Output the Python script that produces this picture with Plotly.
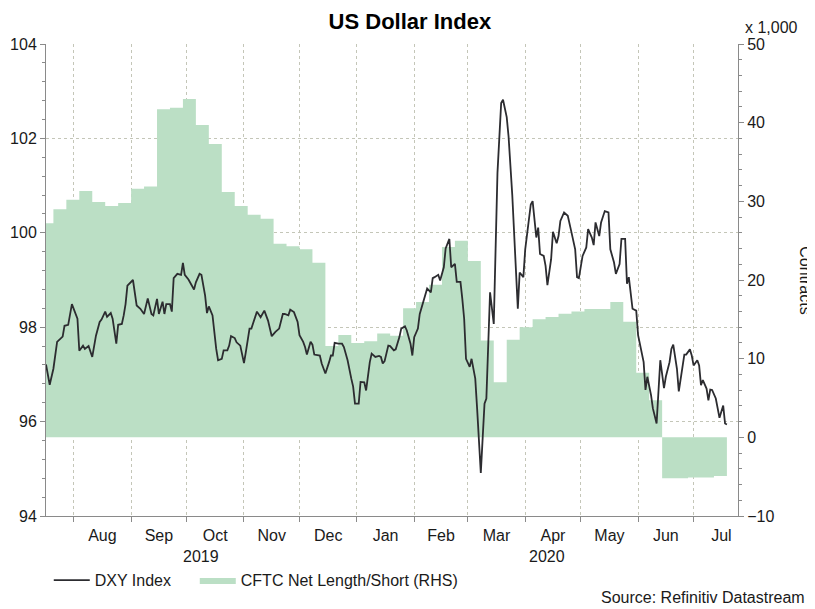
import pandas as pd
import plotly.graph_objects as go

# DXY daily closes
dxy_dates = [
    "2019-07-17", "2019-07-19", "2019-07-21", "2019-07-23", "2019-07-26", "2019-07-27", "2019-07-29", "2019-07-31",
    "2019-08-03", "2019-08-04", "2019-08-06", "2019-08-07", "2019-08-09", "2019-08-11", "2019-08-13", "2019-08-15",
    "2019-08-16", "2019-08-18", "2019-08-19", "2019-08-21", "2019-08-22", "2019-08-24", "2019-08-25", "2019-08-27",
    "2019-08-28", "2019-08-29", "2019-08-30", "2019-08-31",
    "2019-09-02", "2019-09-04", "2019-09-06", "2019-09-08", "2019-09-10", "2019-09-12", "2019-09-13", "2019-09-15",
    "2019-09-16", "2019-09-18", "2019-09-19", "2019-09-20", "2019-09-22", "2019-09-23", "2019-09-24", "2019-09-26",
    "2019-09-28", "2019-09-29", "2019-09-30",
    "2019-10-02", "2019-10-04", "2019-10-05", "2019-10-06", "2019-10-08", "2019-10-09", "2019-10-11", "2019-10-12",
    "2019-10-13", "2019-10-15", "2019-10-16", "2019-10-17", "2019-10-18", "2019-10-20", "2019-10-21", "2019-10-23",
    "2019-10-24", "2019-10-25", "2019-10-27", "2019-10-28", "2019-10-30", "2019-10-31",
    "2019-11-01", "2019-11-02", "2019-11-04", "2019-11-05", "2019-11-07", "2019-11-08", "2019-11-10", "2019-11-12",
    "2019-11-14", "2019-11-16", "2019-11-18", "2019-11-20", "2019-11-22", "2019-11-23", "2019-11-25", "2019-11-26",
    "2019-11-28", "2019-11-30",
    "2019-12-01", "2019-12-03", "2019-12-04", "2019-12-05", "2019-12-07", "2019-12-08", "2019-12-09", "2019-12-12",
    "2019-12-13", "2019-12-15", "2019-12-17", "2019-12-18", "2019-12-19", "2019-12-20", "2019-12-22", "2019-12-24",
    "2019-12-25", "2019-12-27", "2019-12-29", "2019-12-30", "2019-12-31",
    "2020-01-02", "2020-01-03", "2020-01-05", "2020-01-06", "2020-01-07", "2020-01-08", "2020-01-09", "2020-01-11",
    "2020-01-13", "2020-01-14", "2020-01-15", "2020-01-16", "2020-01-18", "2020-01-19", "2020-01-21", "2020-01-22",
    "2020-01-24", "2020-01-25", "2020-01-27", "2020-01-28", "2020-01-30", "2020-01-31",
    "2020-02-01", "2020-02-03", "2020-02-04", "2020-02-06", "2020-02-08", "2020-02-10", "2020-02-11", "2020-02-12",
    "2020-02-14", "2020-02-15", "2020-02-17", "2020-02-18", "2020-02-20", "2020-02-21", "2020-02-23", "2020-02-24",
    "2020-02-26", "2020-02-27", "2020-02-28", "2020-02-29",
    "2020-03-02", "2020-03-03", "2020-03-05", "2020-03-06", "2020-03-07", "2020-03-08", "2020-03-09", "2020-03-10",
    "2020-03-11", "2020-03-12", "2020-03-13", "2020-03-15", "2020-03-16", "2020-03-17", "2020-03-19", "2020-03-20",
    "2020-03-22", "2020-03-23", "2020-03-25", "2020-03-27", "2020-03-28", "2020-03-29", "2020-03-31",
    "2020-04-01", "2020-04-03", "2020-04-04", "2020-04-05", "2020-04-07", "2020-04-08", "2020-04-09", "2020-04-11",
    "2020-04-12", "2020-04-13", "2020-04-15", "2020-04-16", "2020-04-18", "2020-04-19", "2020-04-20", "2020-04-22",
    "2020-04-24", "2020-04-26", "2020-04-28", "2020-04-29", "2020-04-30",
    "2020-05-02", "2020-05-04", "2020-05-05", "2020-05-07", "2020-05-08", "2020-05-09", "2020-05-11", "2020-05-12",
    "2020-05-14", "2020-05-16", "2020-05-17", "2020-05-19", "2020-05-20", "2020-05-22", "2020-05-23", "2020-05-25",
    "2020-05-26", "2020-05-27", "2020-05-29", "2020-05-31",
    "2020-06-01", "2020-06-02", "2020-06-04", "2020-06-05", "2020-06-06", "2020-06-08", "2020-06-09", "2020-06-11",
    "2020-06-12", "2020-06-13", "2020-06-15", "2020-06-16", "2020-06-18", "2020-06-19", "2020-06-20", "2020-06-22",
    "2020-06-23", "2020-06-25", "2020-06-26", "2020-06-27", "2020-06-29", "2020-06-30",
    "2020-07-01", "2020-07-03", "2020-07-04", "2020-07-05", "2020-07-06", "2020-07-08", "2020-07-09", "2020-07-10",
    "2020-07-11", "2020-07-13", "2020-07-14", "2020-07-15", "2020-07-17", "2020-07-18", "2020-07-19",
]
dxy_values = [
    97.21, 96.78, 97.12, 97.69, 97.80, 98.03, 98.05, 98.49,
    98.18, 97.50, 97.61, 97.54, 97.60, 97.37, 97.82, 98.11,
    98.16, 98.33, 98.22, 98.30, 98.18, 97.65, 98.05, 98.07,
    98.25, 98.49, 98.88, 98.92,
    99.00, 98.46, 98.39, 98.28, 98.61, 98.28, 98.25, 98.60,
    98.28, 98.54, 98.28, 98.49, 98.49, 98.33, 99.04, 99.13,
    99.11, 99.36, 99.11,
    99.01, 98.85, 98.80, 98.95, 99.13, 99.11, 98.67, 98.30,
    98.44, 98.25, 97.86, 97.54, 97.30, 97.33, 97.51, 97.51,
    97.61, 97.81, 97.77, 97.68, 97.61, 97.40,
    97.24, 97.47, 97.97, 97.97, 98.18, 98.33, 98.21, 98.35,
    98.14, 97.81, 97.90, 97.97, 98.28, 98.28, 98.25, 98.37,
    98.32, 98.11,
    97.83, 97.69, 97.58, 97.42, 97.69, 97.63, 97.42, 97.40,
    97.23, 97.02, 97.26, 97.40, 97.40, 97.67, 97.65, 97.65,
    97.58, 97.30, 96.91, 96.74, 96.38,
    96.38, 96.84, 96.83, 96.66, 96.98, 97.26, 97.44, 97.37,
    97.39, 97.37, 97.23, 97.28, 97.61, 97.60, 97.51, 97.53,
    97.79, 97.97, 98.02, 97.93, 97.65, 97.40,
    97.79, 97.97, 98.28, 98.53, 98.82, 98.74, 99.04, 99.06,
    99.11, 98.99, 99.27, 99.67, 99.87, 99.27, 99.34, 98.96,
    98.96, 98.60, 98.18, 97.33,
    97.16, 97.33, 96.91, 96.28, 95.58, 94.91, 95.65, 96.38,
    96.49, 97.69, 98.74, 98.07, 99.58, 101.27, 102.75, 102.82,
    102.45, 102.04, 100.80, 99.16, 98.39, 99.16, 99.06,
    99.65, 100.29, 100.60, 100.67, 99.90, 100.11, 99.55, 99.51,
    99.30, 98.89, 99.44, 100.02, 99.78, 99.93, 100.25, 100.43,
    100.36, 100.01, 99.65, 99.06, 99.04,
    99.51, 99.69, 100.08, 99.90, 99.74, 100.22, 99.93, 100.22,
    100.46, 100.43, 99.65, 99.37, 99.13, 99.34, 99.87, 99.87,
    98.92, 99.06, 98.39, 98.35,
    97.83, 97.65, 97.26, 96.67, 96.95, 96.56, 96.28, 95.96,
    96.70, 97.30, 96.71, 96.95, 97.26, 97.54, 97.63, 97.12,
    96.64, 97.19, 97.42, 97.42, 97.53, 97.40,
    97.19, 97.30, 97.19, 96.77, 96.88, 96.70, 96.45, 96.68,
    96.67, 96.49, 96.28, 96.08, 96.34, 95.96, 95.94,
]

# CFTC net position, weekly steps (thousands of contracts)
cftc_weeks = [
    "2019-07-14", "2019-07-21", "2019-07-28", "2019-08-04", "2019-08-11", "2019-08-18", "2019-08-25",
    "2019-09-01", "2019-09-08", "2019-09-15", "2019-09-22", "2019-09-29", "2019-10-06", "2019-10-13",
    "2019-10-20", "2019-10-27", "2019-11-03", "2019-11-10", "2019-11-17", "2019-11-24", "2019-12-01",
    "2019-12-08", "2019-12-15", "2019-12-22", "2019-12-29", "2020-01-05", "2020-01-12", "2020-01-19",
    "2020-01-26", "2020-02-02", "2020-02-09", "2020-02-16", "2020-02-23", "2020-03-01", "2020-03-08",
    "2020-03-15", "2020-03-22", "2020-03-29", "2020-04-05", "2020-04-12", "2020-04-19", "2020-04-26",
    "2020-05-03", "2020-05-10", "2020-05-17", "2020-05-24", "2020-05-31", "2020-06-07", "2020-06-14",
    "2020-06-21", "2020-06-28", "2020-07-05", "2020-07-12",
]
cftc_values = [
    27.2, 29.0, 30.2, 31.3, 29.9, 29.4, 29.8,
    31.6, 31.9, 41.7, 41.9, 43.0, 39.7, 37.3,
    31.2, 29.4, 28.3, 27.8, 24.6, 24.3, 23.9,
    22.2, 11.6, 13.0, 12.0, 12.2, 13.2, 12.9,
    16.4, 17.2, 19.4, 24.2, 25.0, 22.4, 12.3,
    7.0, 12.4, 14.0, 15.0, 15.3, 15.7, 16.0,
    16.3, 16.3, 17.2, 14.7, 8.2, 4.7, -5.2,
    -5.2, -5.1, -5.1, -4.9,
]
cftc_end = "2020-07-19"

x_range = ["2019-07-17", "2020-07-25"]

GREEN = "#bbdfc5"
AXIS = "#8a8a8a"
GRID = "#c4c6b8"

fig = go.Figure()

# area sits on the main (right) axis so the DXY line is drawn over it
fig.add_trace(go.Scatter(
    x=cftc_weeks + [cftc_end],
    y=cftc_values + [cftc_values[-1]],
    name="CFTC Net Length/Short (RHS)",
    mode="lines",
    line=dict(width=0, shape="hv", color=GREEN),
    fill="tozeroy",
    fillcolor=GREEN,
    yaxis="y",
    legend="legend2",
    showlegend=True,
))

fig.add_trace(go.Scatter(
    x=dxy_dates,
    y=dxy_values,
    name="DXY Index",
    mode="lines",
    line=dict(color="#2c2c30", width=1.8),
    yaxis="y2",
    legend="legend",
    showlegend=True,
))

t0 = pd.Timestamp(x_range[0])
t1 = pd.Timestamp(x_range[1])
ny = pd.Timestamp("2020-01-01")
years = [("2019", t0 + (ny - t0) / 2), ("2020", ny + (t1 - ny) / 2)]

annotations = [
    dict(text="x 1,000", x=1.048, y=1.034, xref="paper", yref="paper",
         showarrow=False, xanchor="center", yanchor="middle"),
    dict(text="Contracts", x=1.098, y=0.5, xref="paper", yref="paper",
         showarrow=False, textangle=90, xanchor="center", yanchor="middle"),
    dict(text="Source: Refinitiv Datastream", x=1.0997, y=-0.173, xref="paper", yref="paper",
         showarrow=False, xanchor="right", yanchor="middle"),
]
for label, mid in years:
    annotations.append(dict(text=label, x=mid, y=-0.086, xref="x", yref="paper",
                            showarrow=False, xanchor="center", yanchor="middle"))

legend_style = dict(orientation="h", xanchor="left", y=-0.1, yanchor="top",
                    font=dict(size=16), itemwidth=36, bgcolor="rgba(0,0,0,0)")

# the page adds an 8px body margin, so the figure is a little smaller than the window
fig.update_layout(
    width=807,
    height=601,
    margin=dict(l=38, r=77, t=36, b=91),
    paper_bgcolor="white",
    plot_bgcolor="white",
    font=dict(family="Liberation Sans, Arial, sans-serif", size=16, color="#1a1a1a"),
    title=dict(text="<b>US Dollar Index</b>", x=0.498, xref="container", y=0.99,
               yref="container", xanchor="center", yanchor="top",
               font=dict(size=22, color="black")),
    showlegend=True,
    legend=dict(x=0.004, **legend_style),
    legend2=dict(x=0.215, **legend_style),
    annotations=annotations,
    xaxis=dict(
        type="date", range=x_range, dtick="M1", tick0="2019-08-01",
        ticklabelmode="period", tickformat="%b",
        ticks="outside", ticklen=5, tickcolor=AXIS,
        showline=True, linecolor=AXIS, linewidth=1,
        showgrid=True, gridcolor=GRID, griddash="dot", gridwidth=1,
        zeroline=False, automargin=False,
    ),
    yaxis=dict(
        side="right", range=[-10, 50], dtick=10,
        ticks="outside", ticklen=5, tickcolor=AXIS,
        showline=True, linecolor=AXIS, linewidth=1,
        showgrid=False, zeroline=False, automargin=False,
        minor=dict(ticks="outside", dtick=2, ticklen=3, tickcolor=AXIS),
    ),
    yaxis2=dict(
        overlaying="y", side="left", range=[94, 104], dtick=2,
        ticks="outside", ticklen=5, tickcolor=AXIS,
        showline=True, linecolor=AXIS, linewidth=1,
        showgrid=True, gridcolor=GRID, griddash="dot", gridwidth=1,
        zeroline=False, automargin=False,
        minor=dict(ticks="outside", dtick=0.4, ticklen=3, tickcolor=AXIS),
    ),
)

fig.write_html("out.html")
